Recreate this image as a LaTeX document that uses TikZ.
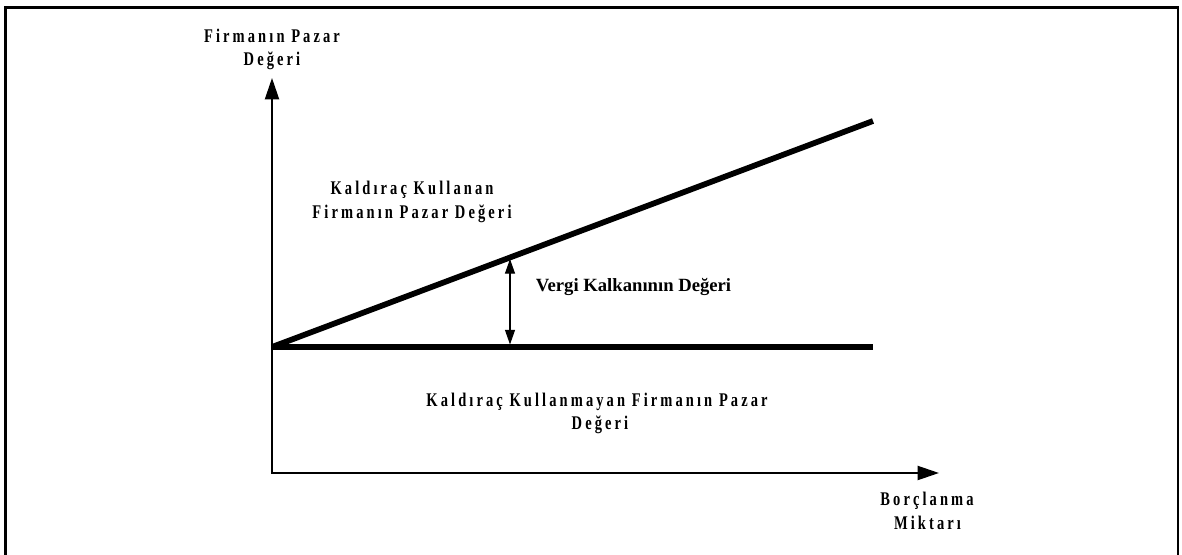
\documentclass[tikz,border=0pt]{standalone}
\usepackage{fontspec}
\setmainfont{Liberation Serif}
\newfontfamily\spaced[FakeStretch=0.75,LetterSpace=16]{Liberation Serif}
\usetikzlibrary{arrows.meta}
\begin{document}
\begin{tikzpicture}[x=0.75pt,y=-0.75pt,
  frameline/.style={line width=1.6pt},
  axisline/.style={line width=1.5pt,
    {Triangle[length=16pt,width=10.5pt]}-{Triangle[length=16pt,width=10.5pt]}},
  valline/.style={line width=4.3pt},
  gapline/.style={line width=0.9pt,
    {Triangle[length=11pt,width=7.5pt]}-{Triangle[length=11pt,width=7.5pt]}},
  spacedlbl/.style={font=\spaced\bfseries\fontsize{14.5}{17}\selectfont, inner sep=0pt, anchor=base},
  plainlbl/.style={font=\bfseries\fontsize{14}{17}\selectfont, inner sep=0pt, anchor=base}]
\useasboundingbox (0,0) rectangle (1182,555);
% frame
\coordinate (f1) at (5.5,555);
\coordinate (f2) at (5.5,7.5);
\coordinate (f3) at (1178,7.5);
\coordinate (f4) at (1178,555);
\draw[frameline] (f1) -- (f2) -- (f3) -- (f4);
% axes
\coordinate (O) at (272,473);
\coordinate (ytip) at (272,78);
\coordinate (xtip) at (939,473);
\draw[axisline] (ytip) -- (O) -- (xtip);
% value lines
\coordinate (A) at (272,347);
\coordinate (B) at (873,347);
\coordinate (C) at (873,121);
\draw[valline] (A) -- (B);
\draw[valline] (A) -- (C);
% tax shield arrow
\coordinate (P) at (510,259);
\coordinate (Q) at (510,344.5);
\draw[gapline] (P) -- (Q);
% labels
\node[spacedlbl] (ylab1) at (272,43) {Firmanın Pazar};
\node[spacedlbl] (ylab2) at (272,66) {Değeri};
\node[spacedlbl] (uplab1) at (412,195) {Kaldıraç Kullanan};
\node[spacedlbl] (uplab2) at (412,219) {Firmanın Pazar Değeri};
\node[spacedlbl] (lowlab1) at (597,407) {Kaldıraç Kullanmayan Firmanın Pazar};
\node[spacedlbl] (lowlab2) at (600,430) {Değeri};
\node[spacedlbl] (xlab1) at (927,506) {Borçlanma};
\node[spacedlbl] (xlab2) at (927.5,530) {Miktarı};
\node[plainlbl] (vergi) at (633.5,292) {Vergi Kalkanının Değeri};
\end{tikzpicture}
\end{document}
